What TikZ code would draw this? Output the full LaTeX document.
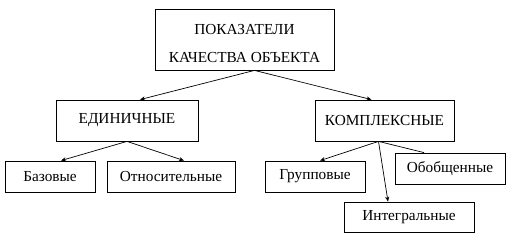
\documentclass[tikz,border=0pt]{standalone}
\usepackage{fontspec}
\setmainfont{Liberation Serif}
\usetikzlibrary{arrows.meta}
\begin{document}
\begin{tikzpicture}[x=1pt,y=-1pt,
  box/.style={draw,line width=0.8pt,inner sep=0pt,font=\fontsize{15.3}{28}\selectfont},
  arr/.style={line width=0.7pt,-{Stealth[length=5pt,width=4pt]}}]
  \useasboundingbox (0,0) rectangle (531,251);
  \node[box,minimum width=179,minimum height=61,align=center] (top) at (244.5,39.5)
    {\rule{0pt}{19pt}ПОКАЗАТЕЛИ\\КАЧЕСТВА ОБЪЕКТА};
  \node[box,minimum width=142,minimum height=41] (edin) at (127,120.5) {ЕДИНИЧНЫЕ};
  \node[box,minimum width=139,minimum height=41] (kompl) at (384.5,120.5) {КОМПЛЕКСНЫЕ};
  \node[box,minimum width=90,minimum height=31] (baz) at (50,176.5) {Базовые};
  \node[box,minimum width=128,minimum height=31] (otn) at (171,176.5) {Относительные};
  \node[box,minimum width=100,minimum height=31] (grup) at (315,176.5) {Групповые};
  \node[box,minimum width=110,minimum height=31] (obob) at (450,168.5) {Обобщенные};
  \node[box,minimum width=130,minimum height=30] (integ) at (409,217) {Интегральные};
  % arrows
  \draw[arr] ([xshift=10]top.south) -- ([xshift=13]edin.north);
  \draw[arr] ([xshift=10]top.south) -- ([xshift=-13]kompl.north);
  \draw[arr] (edin.south) -- ([xshift=11]baz.north);
  \draw[arr] (edin.south) -- ([xshift=13]otn.north);
  \draw[arr] ([xshift=-6]kompl.south) -- ([xshift=5]grup.north);
  \draw[arr] ([xshift=-6]kompl.south) -- ([xshift=-21]integ.north);
  \draw[line width=0.7pt] ([xshift=-6]kompl.south) -- ([xshift=-26]obob.north);
\end{tikzpicture}
\end{document}
